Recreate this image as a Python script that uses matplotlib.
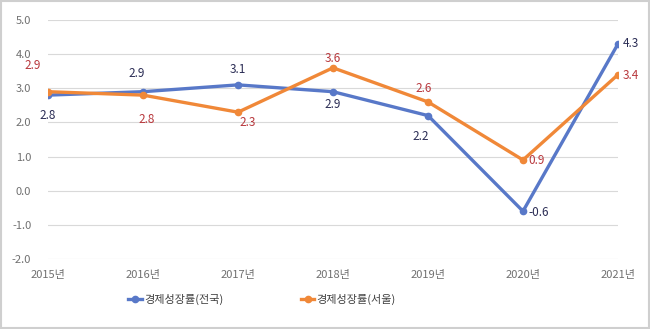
import matplotlib
matplotlib.use("Agg")
import matplotlib.pyplot as plt
from matplotlib.patches import Rectangle
from matplotlib.lines import Line2D

plt.rcParams['font.family'] = ['Noto Sans CJK KR', 'DejaVu Sans']

years = ['2015년', '2016년', '2017년', '2018년', '2019년', '2020년', '2021년']
national = [2.8, 2.9, 3.1, 2.9, 2.2, -0.6, 4.3]
seoul = [2.9, 2.8, 2.3, 3.6, 2.6, 0.9, 3.4]
name_national = '경제성장률(전국)'
name_seoul = '경제성장률(서울)'
yticks = [-2.0, -1.0, 0.0, 1.0, 2.0, 3.0, 4.0, 5.0]

blue = '#5878C8'
orange = '#F08838'
blue_lab = '#2B2D55'
orange_lab = '#B8373C'

# label offsets in pixels (dx, dy, ha)
off_nat = [(0, -20, 'center'), (-6, 18, 'center'), (0, 15, 'center'), (0, -13, 'center'),
           (-7, -21, 'center'), (5, -1, 'left'), (5, 0, 'left')]
off_seo = [(-15, 26, 'center'), (4, -24, 'center'), (10, -10, 'center'), (0, 9, 'center'),
           (-4, 13, 'center'), (5, -1, 'left'), (5, -1, 'left')]

fig = plt.figure(figsize=(6.5, 3.29), dpi=100)
ax = fig.add_axes([48/650, 1-259/329, 570/650, 239/329])
x = list(range(len(years)))

ax.plot(x, national, color=blue, lw=2.4, marker='o', ms=4.5, zorder=3, solid_capstyle='round')
ax.plot(x, seoul, color=orange, lw=2.4, marker='o', ms=4.5, zorder=4, solid_capstyle='round')

pt = 0.72
for xi, v, (dx, dy, ha) in zip(x, national, off_nat):
    ax.annotate(f'{v:.1f}', (xi, v), xytext=(dx*pt, dy*pt), textcoords='offset points',
                ha=ha, va='center', fontsize=8.5, color=blue_lab)
for xi, v, (dx, dy, ha) in zip(x, seoul, off_seo):
    ax.annotate(f'{v:.1f}', (xi, v), xytext=(dx*pt, dy*pt), textcoords='offset points',
                ha=ha, va='center', fontsize=8.5, color=orange_lab)

ax.set_xlim(0, len(years)-1)
ax.set_ylim(min(yticks), max(yticks))
ax.set_yticks(yticks)
ax.set_yticklabels([f'{t:.1f}' for t in yticks])
ax.set_xticks(x)
ax.set_xticklabels(years)
ax.grid(axis='y', color='#d9d9d9', lw=0.8)
ax.set_axisbelow(True)
for s in ax.spines.values():
    s.set_visible(False)
ax.tick_params(length=0, labelsize=8, colors='#707070')
ax.tick_params(axis='y', pad=12)
ax.tick_params(axis='x', pad=8)

handles = [Line2D([], [], color=blue, lw=2.4, marker='o', ms=4.5),
           Line2D([], [], color=orange, lw=2.4, marker='o', ms=4.5)]
fig.legend(handles, [name_national, name_seoul], loc='center', bbox_to_anchor=(262/650, 1-299/329),
           ncol=2, frameon=False, fontsize=8, handlelength=1.2, handletextpad=0.2,
           columnspacing=7, labelcolor='#404040')

fig.patches.append(Rectangle((0.002, 0.003), 0.996, 0.994, transform=fig.transFigure,
                             fill=False, edgecolor='#cfcfcf', lw=1.5))
fig.savefig('out.png', dpi=100, facecolor='white')
